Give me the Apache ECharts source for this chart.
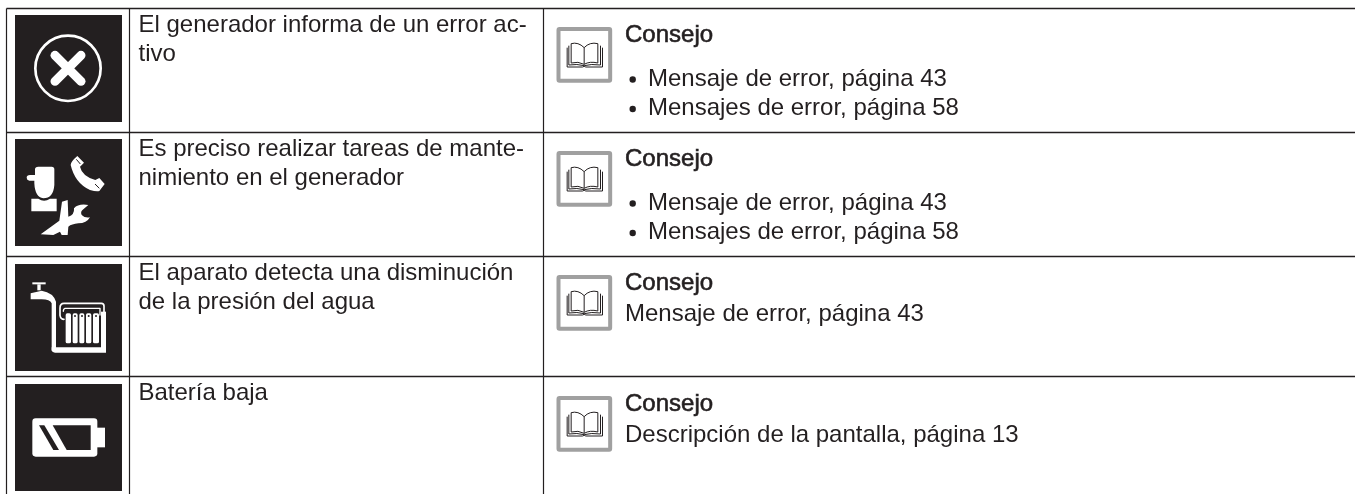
<!DOCTYPE html>
<html><head><meta charset="utf-8">
<style>html,body{margin:0;padding:0;background:#fff}#c{width:1355px;height:494px}</style>
<script src="https://cdn.jsdelivr.net/npm/echarts@6/dist/echarts.min.js"></script>
</head><body><div id="c"></div>
<script>
var descriptions = [
  ["El generador informa de un error ac-", "tivo"],
  ["Es preciso realizar tareas de mante-", "nimiento en el generador"],
  ["El aparato detecta una disminución", "de la presión del agua"],
  ["Batería baja"]
];
var tipTitle = "Consejo";
var tipLines = [
  ["Mensaje de error, página 43", "Mensajes de error, página 58"],
  ["Mensaje de error, página 43", "Mensajes de error, página 58"],
  ["Mensaje de error, página 43"],
  ["Descripción de la pantalla, página 13"]
];
var tipBullets = [true, true, false, false];
var rowLines = [8.5, 132.5, 256.5, 376.5];
var colLines = [6.5, 129.5, 543.5];
var iconTops = [15, 139, 264, 384];
var bookTops = [27, 151, 275, 396];
var FONT = '"Liberation Sans", Arial, sans-serif';
var TXT = '#231f20', FS = 24, LH = 29;

var uid = 0;
function P(d, style) {
  var name = 'svgp' + (uid++);
  echarts.graphic.registerShape(name, echarts.graphic.extendPath(d, {}));
  return {type: name, shape: {}, style: style};
}
var W = {fill: '#fff'};
function S(w, c) { return {fill: null, stroke: c || '#fff', lineWidth: w, lineCap: 'round', lineJoin: 'round'}; }

var iconShapes = [
  [ {type:'circle', shape:{cx:204,cy:205,r:98}, style:{fill:null,stroke:'#fff',lineWidth:8}},
    {type:'line', shape:{x1:165,y1:166,x2:243,y2:244}, style:{stroke:'#fff',lineWidth:27,lineCap:'round'}},
    {type:'line', shape:{x1:243,y1:166,x2:165,y2:244}, style:{stroke:'#fff',lineWidth:27,lineCap:'round'}} ],
  [ P('M90 165L105 165L105 148Q105 140 115 140L155 140Q163 140 163 148L163 195Q160 235 130 235Q105 232 103 190L103 182L88 182Q80 180 80 173Q80 166 90 165Z', W),
    P('M94 236L115 236Q132 248 150 236L170 236L170 274L94 274Z', W),
    P('M232 108L252 128L240 140Q246 168 286 180L298 174L314 192L298 213Q290 216 270 210Q225 190 212 135Q212 125 232 108Z', W),
    {type:'line', shape:{x1:229,y1:118,x2:241,y2:132}, style:{stroke:'#231f20',lineWidth:3}},
    {type:'line', shape:{x1:285,y1:192,x2:298,y2:205}, style:{stroke:'#231f20',lineWidth:3}},
    P('M122 343L178 302L186 245L203 240L205 290Q224 285 222 265Q235 250 265 255L250 268Q240 275 245 285Q255 295 270 292Q260 310 235 310Q215 312 205 320L203 345L185 345L180 335L160 345Z', W) ],
  [ {type:'rect', shape:{x:97,y:127,width:40,height:6}, style:W},
    {type:'rect', shape:{x:112,y:133,width:10,height:18}, style:W},
    P('M92 160L125 152Q160 158 168 185L168 332L155 332L155 190Q150 178 125 178L92 178Z', W),
    P('M155 322L318 322L318 338L165 338Q155 338 155 328Z', W),
    P('M303 215L318 215L318 330L303 330Z', W),
    P('M312 225L312 198Q312 190 304 190L192 190Q180 190 180 204L180 226Q182 238 192 238', S(5)),
    P('M300 225L300 205L195 205Q190 206 190 214', S(4)),
    {type:'rect', shape:{x:197,y:220,width:16,height:90,r:5}, style:W},
    {type:'rect', shape:{x:218,y:220,width:15,height:90,r:5}, style:W},
    {type:'rect', shape:{x:238,y:220,width:15,height:90,r:5}, style:W},
    {type:'rect', shape:{x:258,y:220,width:16,height:90,r:5}, style:W},
    {type:'rect', shape:{x:279,y:220,width:18,height:90,r:5}, style:W},
    {type:'circle', shape:{cx:225,cy:228,r:3}, style:{fill:'#231f20'}},
    {type:'circle', shape:{cx:246,cy:228,r:3}, style:{fill:'#231f20'}},
    {type:'circle', shape:{cx:266,cy:228,r:3}, style:{fill:'#231f20'}},
    {type:'circle', shape:{cx:288,cy:228,r:3}, style:{fill:'#231f20'}} ],
  [ {type:'rect', shape:{x:97,y:160,width:195,height:115,r:10}, style:W},
    {type:'rect', shape:{x:290,y:188,width:25,height:59}, style:W},
    {type:'polygon', shape:{points:[[158,181],[272,181],[272,255],[200,255]]}, style:{fill:'#231f20'}},
    {type:'polygon', shape:{points:[[117,181],[133,181],[177,255],[160,255]]}, style:{fill:'#231f20'}} ]
];
var iconOrigins = [0, 120, 240, 365];

function bookIcon(x, y) {
  var bk = {fill:null, stroke:'#231f20', lineWidth:3, lineJoin:'round'};
  return {type:'group', x:x, y:y, scaleX:1/3, scaleY:1/3, silent:true, children:[
    {type:'rect', shape:{x:6,y:6,width:155,height:155,r:3}, style:{fill:'#fff',stroke:'#a0a0a0',lineWidth:12}},
    P('M32 62L32 120L78 120Q83 116 88 120L138 120L138 62', bk),
    P('M37 56L37 114Q62 110 83 116Q104 110 132 114L132 56', bk),
    P('M83 62Q65 44 44 50L44 108Q65 102 83 112Q100 102 124 108L124 50Q100 44 83 62Z', bk),
    {type:'line', shape:{x1:83,y1:62,x2:83,y2:112}, style:{stroke:'#231f20',lineWidth:3}}
  ]};
}
function text(x, baseline, s, extra) {
  var st = {x:x, y:baseline - 0.3465*FS, text:s, fill:TXT, font:FS+'px '+FONT, verticalAlign:'middle'};
  for (var k in extra) st[k] = extra[k];
  return {type:'text', silent:true, style:st};
}

var g = [];
rowLines.forEach(function(y){
  g.push({type:'line', shape:{x1:colLines[0],y1:y,x2:1355,y2:y}, style:{stroke:'#231f20',lineWidth:1.3}});
});
colLines.forEach(function(x){
  g.push({type:'line', shape:{x1:x,y1:rowLines[0],x2:x,y2:494}, style:{stroke:'#231f20',lineWidth:1.2}});
});
descriptions.forEach(function(lines, r){
  var top = iconTops[r];
  g.push({type:'rect', shape:{x:15,y:top,width:107,height:107}, style:{fill:'#231f20'}});
  g.push({type:'group', x:0, y:iconOrigins[r], scaleX:1/3, scaleY:1/3, silent:true, children:iconShapes[r]});
  lines.forEach(function(s, i){ g.push(text(138.5, rowLines[r]+25+i*LH, s)); });
  var bt = bookTops[r];
  g.push(bookIcon(556.5, bt));
  g.push(text(625, bt+17, tipTitle, {stroke:TXT, lineWidth:0.6}));
  var bul = tipBullets[r];
  tipLines[r].forEach(function(s, i){
    var by = bul ? bt+60.5+i*29.5 : bt+47.5;
    if (bul) g.push({type:'circle', silent:true, shape:{cx:632.7,cy:by-8,r:3.2}, style:{fill:TXT}});
    g.push(text(bul?648:625, by, s));
  });
});

var chart = echarts.init(document.getElementById('c'), null, {renderer:'canvas'});
chart.setOption({animation:false, backgroundColor:'#fff', graphic:{elements:g}});
</script></body></html>
